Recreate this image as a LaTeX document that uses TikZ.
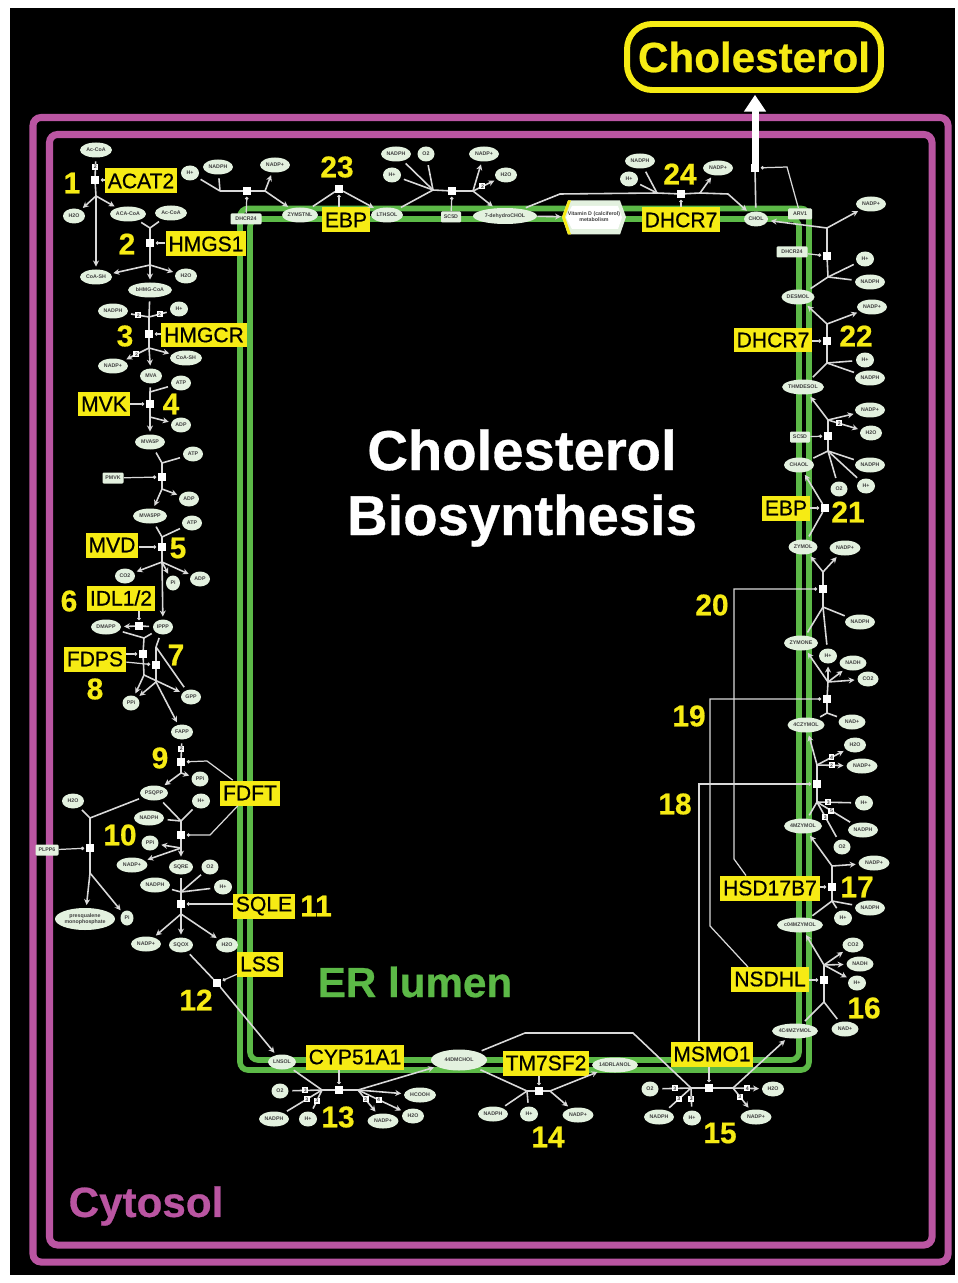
\documentclass[tikz,border=0pt]{standalone}
\usepackage{fontspec}
\setmainfont{Liberation Sans}
\newfontfamily\hvfont[BoldFeatures={FakeBold=0.6}]{Liberation Sans}
\newfontfamily\enzfont[FakeBold=0.5]{Liberation Sans}
\usetikzlibrary{shapes.geometric,arrows.meta}
\definecolor{cytmag}{HTML}{BA55A2}
\definecolor{ergreen}{HTML}{5CB947}
\definecolor{labyel}{HTML}{F6EB14}
\definecolor{metgreen}{HTML}{E3F1DF}
\definecolor{edgegrey}{HTML}{D9D9D9}
\newcommand{\smtxt}{\fontsize{3}{3.4}\selectfont\bfseries\color{black!75}}
\begin{document}
\begin{tikzpicture}[x=0.02cm, y=-0.02cm,
	met/.style={ellipse, fill=metgreen, inner sep=0pt, minimum height=0.3cm, minimum width=#1*0.04cm, font=\smtxt, align=center},
	rct/.style={rectangle, rounded corners=0.6pt, fill=metgreen, inner sep=0pt, minimum height=0.22cm, minimum width=#1*0.02cm, font=\smtxt},
	sq/.style={rectangle, fill=white, inner sep=0pt, minimum size=0.15cm},
	nbox/.style={rectangle, fill=white, inner sep=0pt, minimum size=0.12cm, font=\smtxt},
	enz/.style={rectangle, fill=labyel, text=black, inner sep=0pt, inner xsep=1.6pt, minimum height=0.5cm, font=\fontsize{12}{12}\selectfont\enzfont},
	num/.style={text=labyel, inner sep=0pt, font=\fontsize{17}{17}\selectfont\hvfont\bfseries},
	frm/.style={draw=cytmag, line width=4pt, rounded corners=0.16cm},
	lum/.style={draw=ergreen, line width=3.2pt, rounded corners=0.16cm},
	ln/.style={draw=edgegrey, line width=0.9pt, shorten <=2pt},
	sp/.style={draw=edgegrey, line width=0.9pt},
	ar/.style={draw=edgegrey, line width=0.9pt, -{Stealth[length=3.4pt, width=3.4pt]}, shorten >=1.5pt},
	cat/.style={draw=edgegrey, line width=0.7pt, -{Circle[length=1.9pt, fill=white]}, shorten >=1pt}]

	\useasboundingbox (0,0) rectangle (957,1283);
	\fill[white] (0,0) rectangle (957,1283);
	\fill[black] (10,8) rectangle (955,1275);

	\draw[frm] (33,117.5) rectangle (948,1262);
	\draw[frm] (49.5,134.5) rectangle (932,1245);
	\draw[lum] (240,208.5) rectangle (809,1070);
	\draw[lum] (250,219) rectangle (799,1060);

	\node[draw=labyel, line width=3.4pt, rounded corners=0.5cm, minimum width=5.08cm, minimum height=1.32cm, text=labyel, font=\fontsize{24}{24}\selectfont\hvfont\bfseries] (chbox) at (754,57) {Cholesterol};
	\node[text=white, align=center, font=\fontsize{32}{37}\selectfont\hvfont\bfseries] (title) at (522,488) {Cholesterol\\Biosynthesis};
	\node[text=ergreen, font=\fontsize{24}{24}\selectfont\hvfont\bfseries] (erlab) at (415,982) {ER lumen};
	\node[text=cytmag, font=\fontsize{24}{24}\selectfont\hvfont\bfseries] (cytlab) at (146,1206) {Cytosol};

	\fill[metgreen] (568,200.5) -- (620,200.5) -- (626,217) -- (620,234.5) -- (568,234.5) -- (562,217) -- cycle;
	\fill[labyel] (568,200.5) -- (571,200.5) -- (565,217) -- (571,234.5) -- (568,234.5) -- (562,217) -- cycle;
	\fill[white] (572,206) -- (618,206) -- (622,217.5) -- (618,229) -- (572,229) -- (566,217.5) -- cycle;
	\node[inner sep=0pt, align=center, minimum width=1.2cm, minimum height=0.56cm, font=\smtxt] (vitd) at (594,217) {Vitamin D (calciferol)\\metabolism};

	\node[met=16] (acoa1) at (96,150) {Ac-CoA};
	\node[met=11] (h2o1) at (74,216) {H2O};
	\node[met=18] (aca) at (128,214) {ACA-CoA};
	\node[met=16] (acoa2) at (171,213) {Ac-CoA};
	\node[met=16] (coash1) at (96,277) {CoA-SH};
	\node[met=22] (hmg) at (150,290) {bHMG-CoA};
	\node[met=11] (h2o2) at (186,276) {H2O};
	\node[met=15] (nadph3) at (113,311) {NADPH};
	\node[met=9] (hp3) at (179,309) {H+};
	\node[met=15] (nadpp3) at (113,366) {NADP+};
	\node[met=16] (coash2) at (186,358) {CoA-SH};
	\node[met=11] (mva) at (151,376) {MVA};
	\node[met=10] (atp4) at (181,383) {ATP};
	\node[met=10] (adp4) at (181,425) {ADP};
	\node[met=15] (mva5p) at (150,442) {MVA5P};
	\node[met=10] (atpm) at (193,454) {ATP};
	\node[rct=21] (pmvk) at (113,478) {PMVK};
	\node[met=10] (adpm) at (189,499) {ADP};
	\node[met=17] (mva5pp) at (150,516) {MVA5PP};
	\node[met=10] (atp5) at (192,523) {ATP};
	\node[met=10] (co25) at (125,576) {CO2};
	\node[met=7] (pi5) at (173,583) {Pi};
	\node[met=10] (adp5) at (200,579) {ADP};
	\node[met=10] (ipp) at (163,627) {IPPP};
	\node[met=15] (dmapp) at (106,627) {DMAPP};
	\node[met=10] (gpp) at (191,697) {GPP};
	\node[met=8.5] (ppi8) at (131,703) {PPi};
	\node[met=11] (fapp) at (182,732) {FAPP};
	\node[met=8.5] (ppi9) at (200,779) {PPi};
	\node[met=14] (psqpp) at (154,793) {PSQPP};
	\node[met=9] (hp10) at (201,801) {H+};
	\node[met=11] (h2opl) at (73,801) {H2O};
	\node[met=15] (nadph10) at (149,818) {NADPH};
	\node[met=8.5] (ppi10) at (150,843) {PPi};
	\node[met=15.5] (nadpp10) at (132,865) {NADP+};
	\node[met=12] (sqre) at (181,867) {SQRE};
	\node[met=8.5] (o211) at (210,867) {O2};
	\node[met=15] (nadph11) at (155,885) {NADPH};
	\node[met=9] (hp11) at (223,887) {H+};
	\node[rct=23] (plpp) at (47,850) {PLPP6};
	\node[met=30, minimum height=0.44cm] (presq) at (85,919) {presqualene\\monophosphate};
	\node[met=6.5] (pipl) at (127,918) {Pi};
	\node[met=15] (nadpp11) at (146,944) {NADP+};
	\node[met=12] (sqox) at (181,945) {SQOX};
	\node[met=11] (h2o11) at (227,945) {H2O};

	\node[met=9] (hpdl) at (190,173) {H+};
	\node[met=15] (nadphdl) at (218,167) {NADPH};
	\node[rct=31] (dh24l) at (246,219) {DHCR24};
	\node[met=15] (nadppdl) at (275,165) {NADP+};
	\node[met=18] (zymst) at (300,215) {ZYMSTNL};
	\node[met=16] (lth) at (387,215) {LTHSOL};
	\node[met=15] (nadphst) at (396,154) {NADPH};
	\node[met=8.5] (o2st) at (426,154) {O2};
	\node[met=9] (hpst) at (392,175) {H+};
	\node[met=15] (nadppst) at (484,154) {NADP+};
	\node[met=11] (h2ost) at (506,175) {H2O};
	\node[rct=20] (sc5dt) at (451,217) {SC5D};
	\node[met=32, minimum height=0.32cm] (dhc) at (505,216) {7-dehydroCHOL};
	\node[met=15] (nadph24) at (640,161) {NADPH};
	\node[met=9] (hp24) at (629,179) {H+};
	\node[met=15] (nadpp24) at (718,168) {NADP+};
	\node[met=12] (chol) at (756,219) {CHOL};
	\node[rct=24] (arv) at (800,214) {ARV1};
	\node[met=15] (nadppdr) at (871,204) {NADP+};

	\node[rct=31] (dh24r) at (792,252) {DHCR24};
	\node[met=9] (hpdr) at (865,259) {H+};
	\node[met=15] (nadphdr) at (870,282) {NADPH};
	\node[met=16.5] (desmol) at (798,297) {DESMOL};
	\node[met=15] (nadpp22) at (872,307) {NADP+};
	\node[met=9] (hp22) at (865,360) {H+};
	\node[met=15] (nadph22) at (870,378) {NADPH};
	\node[met=20] (thm) at (803,387) {THMDESOL};
	\node[met=15] (nadppsc) at (870,410) {NADP+};
	\node[met=11] (h2osc) at (871,433) {H2O};
	\node[rct=20] (sc5dr) at (800,437) {SC5D};
	\node[met=15] (chaol) at (799,465) {CHAOL};
	\node[met=15] (nadphsc) at (870,465) {NADPH};
	\node[met=8.5] (o2sc) at (839,489) {O2};
	\node[met=9] (hpsc) at (866,486) {H+};
	\node[met=14.5] (zymol) at (803,547) {ZYMOL};
	\node[met=15.5] (nadpp20) at (845,548) {NADP+};
	\node[met=15] (nadph20) at (860,622) {NADPH};
	\node[met=17] (zymone) at (801,643) {ZYMONE};
	\node[met=9] (hp20) at (828,656) {H+};
	\node[met=13.5] (nadh19) at (853,663) {NADH};
	\node[met=10.5] (co219) at (868,679) {CO2};
	\node[met=13.5] (nad19) at (852,722) {NAD+};
	\node[met=18.5] (czymol) at (806,725) {4CZYMOL};
	\node[met=11] (h2o18) at (855,745) {H2O};
	\node[met=15.5] (nadpp18) at (862,766) {NADP+};
	\node[met=9] (hp18) at (864,803) {H+};
	\node[met=19] (mzymol) at (803,826) {4MZYMOL};
	\node[met=15] (nadph18) at (863,830) {NADPH};
	\node[met=8.5] (o218) at (842,847) {O2};
	\node[met=15.5] (nadpp17) at (874,863) {NADP+};
	\node[met=15] (nadph17) at (870,908) {NADPH};
	\node[met=9] (hp17) at (843,918) {H+};
	\node[met=23] (cmzymol) at (800,925) {c04MZYMOL};
	\node[met=10.5] (co216) at (853,945) {CO2};
	\node[met=13.5] (nadh16) at (860,964) {NADH};
	\node[met=9] (hp16) at (857,983) {H+};
	\node[met=13.5] (nad16) at (845,1029) {NAD+};
	\node[met=23] (ccmzymol) at (795,1031) {4C4MZYMOL};

	\node[met=14] (lnsol) at (282,1062) {LNSOL};
	\node[met=28, minimum height=0.42cm] (dmchol) at (459,1060) {44DMCHOL};
	\node[met=8.5] (o213) at (280,1091) {O2};
	\node[met=15] (nadph13) at (274,1119) {NADPH};
	\node[met=9] (hp13) at (308,1119) {H+};
	\node[met=15.5] (nadpp13) at (383,1121) {NADP+};
	\node[met=11] (h2o13) at (413,1116) {H2O};
	\node[met=16] (hcooh) at (420,1095) {HCOOH};
	\node[met=23] (drlan) at (615,1065) {14DRLANOL};
	\node[met=15] (nadph14) at (493,1114) {NADPH};
	\node[met=9] (hp14) at (529,1114) {H+};
	\node[met=15.5] (nadpp14) at (578,1115) {NADP+};
	\node[met=8.5] (o215) at (650,1089) {O2};
	\node[met=15] (nadph15) at (659,1117) {NADPH};
	\node[met=9] (hp15) at (692,1118) {H+};
	\node[met=15.5] (nadpp15) at (756,1117) {NADP+};
	\node[met=11] (h2o15) at (773,1089) {H2O};

	\node[sq] (r1) at (95,180) {};
	\node[sq] (r2) at (150,243) {};
	\node[sq] (r3) at (149,334) {};
	\node[sq] (r4) at (150,404) {};
	\node[sq] (rm) at (162,477) {};
	\node[sq] (r5) at (162,547) {};
	\node[sq] (r6) at (139,626) {};
	\node[sq] (r8) at (143,654) {};
	\node[sq] (r7) at (156,665) {};
	\node[sq] (r9) at (181,762) {};
	\node[sq] (r10) at (181,835) {};
	\node[sq] (rpl) at (90,848) {};
	\node[sq] (r11) at (181,904) {};
	\node[sq] (r12) at (217,983) {};
	\node[sq] (r13) at (339,1090) {};
	\node[sq] (r14) at (539,1091) {};
	\node[sq] (r15) at (709,1088) {};
	\node[sq] (r16) at (824,980) {};
	\node[sq] (r17) at (832,887) {};
	\node[sq] (r18) at (817,784) {};
	\node[sq] (r19) at (827,699) {};
	\node[sq] (r20) at (823,589) {};
	\node[sq] (r21) at (825,508) {};
	\node[sq] (rsc) at (828,436) {};
	\node[sq] (r22) at (827,341) {};
	\node[sq] (rdr) at (827,256) {};
	\node[sq] (rch) at (755,168) {};
	\node[sq] (r24) at (681,194) {};
	\node[sq] (rst) at (452,191) {};
	\node[sq] (r23) at (339,189) {};
	\node[sq] (rdl) at (247,191) {};

	\node[enz] (acat) at (141,181) {ACAT2};
	\node[enz] (hmgs) at (206,244) {HMGS1};
	\node[enz] (hmgcr) at (204,335) {HMGCR};
	\node[enz] (mvk) at (104,404) {MVK};
	\node[enz] (mvd) at (112,545) {MVD};
	\node[enz] (idl) at (121,598) {IDL1/2};
	\node[enz] (fdps) at (95,659) {FDPS};
	\node[enz] (fdft) at (250,793) {FDFT};
	\node[enz] (sqle) at (264,906) {SQLE};
	\node[enz] (lss) at (260,964) {LSS};
	\node[enz] (cyp) at (355,1057) {CYP51A1};
	\node[enz] (tm7) at (546,1063) {TM7SF2};
	\node[enz] (msmo) at (712,1054) {MSMO1};
	\node[enz] (nsdhl) at (770,979) {NSDHL};
	\node[enz] (hsd) at (770,888) {HSD17B7};
	\node[enz] (ebpr) at (786,508) {EBP};
	\node[enz] (dhcr) at (773,340) {DHCR7};
	\node[enz] (dhct) at (681,220) {DHCR7};
	\node[enz] (ebpt) at (346,220) {EBP};

	\node[num] (n1) at (72,183) {1};
	\node[num] (n2) at (127,244) {2};
	\node[num] (n3) at (125,336) {3};
	\node[num] (n4) at (171,404) {4};
	\node[num] (n5) at (178,548) {5};
	\node[num] (n6) at (69,601) {6};
	\node[num] (n7) at (176,655) {7};
	\node[num] (n8) at (95,689) {8};
	\node[num] (n9) at (160,758) {9};
	\node[num] (n10) at (120,835) {10};
	\node[num] (n11) at (316,906) {11};
	\node[num] (n12) at (196,1000) {12};
	\node[num] (n13) at (338,1117) {13};
	\node[num] (n14) at (548,1137) {14};
	\node[num] (n15) at (720,1133) {15};
	\node[num] (n16) at (864,1008) {16};
	\node[num] (n17) at (857,887) {17};
	\node[num] (n18) at (675,804) {18};
	\node[num] (n19) at (689,716) {19};
	\node[num] (n20) at (712,605) {20};
	\node[num] (n21) at (848,512) {21};
	\node[num] (n22) at (856,336) {22};
	\node[num] (n23) at (337,167) {23};
	\node[num] (n24) at (680,174) {24};

	\coordinate (hb1) at (96,196);
	\coordinate (ha2) at (150,228);
	\coordinate (hb2) at (150,265);
	\coordinate (ha3) at (149,317);
	\coordinate (hb3) at (149,348);
	\coordinate (ha4) at (150,392);
	\coordinate (hb4) at (150,417);
	\coordinate (ham) at (162,463);
	\coordinate (hbm) at (162,489);
	\coordinate (ha5) at (162,537);
	\coordinate (hb5) at (162,562);
	\coordinate (ha8) at (144,638);
	\coordinate (hb8) at (144,675);
	\coordinate (ha7) at (156,647);
	\coordinate (hb7) at (156,682);
	\coordinate (hb9) at (181,773);
	\coordinate (ha10) at (181,821);
	\coordinate (hb10) at (181,848);
	\coordinate (hapl) at (90,818);
	\coordinate (hbpl) at (90,873);
	\coordinate (ha11) at (181,892);
	\coordinate (hb11) at (181,914);
	\coordinate (ha13) at (322,1090);
	\coordinate (hb13) at (358,1090);
	\coordinate (ha14) at (527,1091);
	\coordinate (hb14) at (550,1091);
	\coordinate (ha15) at (691,1088);
	\coordinate (hb15) at (733,1088);
	\coordinate (ha16) at (824,1002);
	\coordinate (hb16) at (824,965);
	\coordinate (ha17) at (832,901);
	\coordinate (hb17) at (832,866);
	\coordinate (ha18) at (817,802);
	\coordinate (hb18) at (817,765);
	\coordinate (ha19) at (827,713);
	\coordinate (hb19) at (828,682);
	\coordinate (ha20) at (823,607);
	\coordinate (hb20) at (823,572);
	\coordinate (hasc) at (828,451);
	\coordinate (hbsc) at (828,420);
	\coordinate (ha22) at (827,363);
	\coordinate (hb22) at (827,324);
	\coordinate (hadr) at (828,277);
	\coordinate (hbdr) at (827,228);
	\coordinate (ha24) at (657,193);
	\coordinate (hb24) at (700,193);
	\coordinate (ka24) at (560,194);
	\coordinate (kb24) at (728,194);
	\coordinate (hast) at (433,190);
	\coordinate (hbst) at (473,191);
	\coordinate (hadl) at (220,191);
	\coordinate (hbdl) at (265,191);
	\coordinate (kfa) at (207,761);
	\coordinate (kfb) at (210,835);
	\coordinate (karv) at (787,167);
	\coordinate (kla) at (525,1033);
	\coordinate (klb) at (633,1033);
	\coordinate (kma) at (699,784);
	\coordinate (knc) at (748,967);
	\coordinate (kna) at (710,926);
	\coordinate (knb) at (710,699);
	\coordinate (khc) at (746,875.5);
	\coordinate (kha) at (734,859);
	\coordinate (khb) at (734,589);

	\draw[ln] (acoa1) -- node[nbox] (q1) {2} (r1);
	\draw[sp] (r1) -- (hb1);
	\draw[ar] (hb1) -- (h2o1);
	\draw[ar] (hb1) -- (aca);
	\draw[ar] (hb1) -- (coash1);
	\draw[cat] (acat.west |- r1) -- (r1);

	\draw[ln] (aca) -- (ha2);
	\draw[ln] (acoa2) -- (ha2);
	\draw[sp] (ha2) -- (r2) -- (hb2);
	\draw[ar] (hb2) -- (coash1);
	\draw[ar] (hb2) -- (h2o2);
	\draw[ar] (hb2) -- (hmg);
	\draw[cat] (hmgs.west |- r2) -- (r2);

	\draw[ln] (hmg) -- (ha3);
	\draw[ln] (nadph3) -- node[nbox] (q3a) {2} (ha3);
	\draw[ln] (hp3) -- node[nbox] (q3b) {2} (ha3);
	\draw[sp] (ha3) -- (r3) -- (hb3);
	\draw[ar] (hb3) -- node[nbox] (q3c) {2} (nadpp3);
	\draw[ar] (hb3) -- (coash2);
	\draw[ar] (hb3) -- (mva);
	\draw[cat] (hmgcr.west |- r3) -- (r3);

	\draw[ln] (mva) -- (ha4);
	\draw[ln] (atp4) -- (ha4);
	\draw[sp] (ha4) -- (r4) -- (hb4);
	\draw[ar] (hb4) -- (adp4);
	\draw[ar] (hb4) -- (mva5p);
	\draw[cat] (mvk.east |- r4) -- (r4);

	\draw[ln] (mva5p) -- (ham);
	\draw[ln] (atpm) -- (ham);
	\draw[sp] (ham) -- (rm) -- (hbm);
	\draw[ar] (hbm) -- (adpm);
	\draw[ar] (hbm) -- (mva5pp);
	\draw[cat] (pmvk) -- (rm);

	\draw[ln] (mva5pp) -- (ha5);
	\draw[ln] (atp5) -- (ha5);
	\draw[sp] (ha5) -- (r5) -- (hb5);
	\draw[ar] (hb5) -- (co25);
	\draw[ar] (hb5) -- (pi5);
	\draw[ar] (hb5) -- (adp5);
	\draw[ar] (hb5) -- (ipp);
	\draw[cat] (mvd.east |- r5) -- (r5);

	\draw[ln] (ipp) -- (r6);
	\draw[ar] (r6) -- (dmapp);
	\draw[cat] (r6 |- idl.south) -- (r6);

	\draw[ln] (dmapp) -- (ha8);
	\draw[ln] (ipp) -- (ha8);
	\draw[sp] (ha8) -- (r8) -- (hb8);
	\draw[ar] (hb8) -- (ppi8);
	\draw[ar] (hb8) -- (gpp);
	\draw[cat] (fdps.east |- r8) -- (r8);

	\draw[ln] (ipp) -- (ha7);
	\draw[ln] (gpp) -- (ha7);
	\draw[sp] (ha7) -- (r7) -- (hb7);
	\draw[ar] (hb7) -- (ppi8);
	\draw[ar] (hb7) -- (fapp);
	\draw[cat] (fdps) -- (r7);

	\draw[ln] (fapp) -- node[nbox] (q9) {2} (r9);
	\draw[sp] (r9) -- (hb9);
	\draw[ar] (hb9) -- (psqpp);
	\draw[ar] (hb9) -- (ppi9);
	\draw[cat] (fdft) -- (kfa) -- (r9);

	\draw[ln] (psqpp) -- (ha10);
	\draw[ln] (nadph10) -- (ha10);
	\draw[ln] (hp10) -- (ha10);
	\draw[sp] (ha10) -- (r10) -- (hb10);
	\draw[ar] (hb10) -- (ppi10);
	\draw[ar] (hb10) -- (nadpp10);
	\draw[ar] (hb10) -- (sqre);
	\draw[cat] (fdft) -- (kfb) -- (r10);

	\draw[ln] (psqpp) -- (hapl);
	\draw[ln] (h2opl) -- (hapl);
	\draw[sp] (hapl) -- (rpl) -- (hbpl);
	\draw[ar] (hbpl) -- (presq);
	\draw[ar] (hbpl) -- (pipl);
	\draw[cat] (plpp) -- (rpl);

	\draw[ln] (sqre) -- (ha11);
	\draw[ln] (o211) -- (ha11);
	\draw[ln] (nadph11) -- (ha11);
	\draw[ln] (hp11) -- (ha11);
	\draw[sp] (ha11) -- (r11) -- (hb11);
	\draw[ar] (hb11) -- (nadpp11);
	\draw[ar] (hb11) -- (sqox);
	\draw[ar] (hb11) -- (h2o11);
	\draw[cat] (sqle.west |- r11) -- (r11);

	\draw[ln] (sqox) -- (r12);
	\draw[ar] (r12) -- (lnsol);
	\draw[cat] (lss) -- (r12);

	\draw[ln] (lnsol) -- (ha13);
	\draw[ln] (o213) -- node[nbox] (q13a) {3} (ha13);
	\draw[ln] (nadph13) -- node[nbox, pos=0.6] (q13b) {3} (ha13);
	\draw[ln] (hp13) -- node[nbox] (q13c) {3} (ha13);
	\draw[sp] (ha13) -- (r13) -- (hb13);
	\draw[ar] (hb13) -- (dmchol);
	\draw[ar] (hb13) -- (hcooh);
	\draw[ar] (hb13) -- node[nbox, pos=0.4] (q13d) {3} (nadpp13);
	\draw[ar] (hb13) -- node[nbox, pos=0.45] (q13e) {4} (h2o13);
	\draw[cat] (r13 |- cyp.south) -- (r13);

	\draw[ln] (dmchol) -- (ha14);
	\draw[ln] (nadph14) -- (ha14);
	\draw[ln] (hp14) -- (ha14);
	\draw[sp] (ha14) -- (r14) -- (hb14);
	\draw[ar] (hb14) -- (drlan);
	\draw[ar] (hb14) -- (nadpp14);
	\draw[cat] (r14 |- tm7.south) -- (r14);

	\draw[ln] (dmchol) -- (kla) -- (klb) -- (ha15);
	\draw[ln] (o215) -- node[nbox] (q15a) {3} (ha15);
	\draw[ln] (nadph15) -- node[nbox] (q15b) {3} (ha15);
	\draw[ln] (hp15) -- node[nbox] (q15c) {3} (ha15);
	\draw[sp] (ha15) -- (r15) -- (hb15);
	\draw[ar] (hb15) -- (ccmzymol);
	\draw[ar] (hb15) -- node[nbox] (q15d) {4} (h2o15);
	\draw[ar] (hb15) -- node[nbox, pos=0.4] (q15e) {3} (nadpp15);
	\draw[cat] (r15 |- msmo.south) -- (r15);
	\draw[cat] (kma |- msmo.north) -- (kma) -- (r18);

	\draw[ln] (ccmzymol) -- (ha16);
	\draw[ln] (nad16) -- (ha16);
	\draw[sp] (ha16) -- (r16) -- (hb16);
	\draw[ar] (hb16) -- (cmzymol);
	\draw[ar] (hb16) -- (co216);
	\draw[ar] (hb16) -- (nadh16);
	\draw[ar] (hb16) -- (hp16);
	\draw[cat] (nsdhl.east |- r16) -- (r16);
	\draw[cat] (knc) -- (kna) -- (knb) -- (r19);

	\draw[ln] (cmzymol) -- (ha17);
	\draw[ln] (nadph17) -- (ha17);
	\draw[ln] (hp17) -- (ha17);
	\draw[sp] (ha17) -- (r17) -- (hb17);
	\draw[ar] (hb17) -- (mzymol);
	\draw[ar] (hb17) -- (nadpp17);
	\draw[cat] (hsd.east |- r17) -- (r17);
	\draw[cat] (khc) -- (kha) -- (khb) -- (r20);

	\draw[ln] (mzymol) -- (ha18);
	\draw[ln] (hp18) -- node[nbox, pos=0.7] (q18a) {3} (ha18);
	\draw[ln] (nadph18) -- node[nbox, pos=0.6] (q18b) {5} (ha18);
	\draw[ln] (o218) -- node[nbox, pos=0.6] (q18c) {3} (ha18);
	\draw[sp] (ha18) -- (r18) -- (hb18);
	\draw[ar] (hb18) -- (czymol);
	\draw[ar] (hb18) -- node[nbox] (q18d) {4} (h2o18);
	\draw[ar] (hb18) -- node[nbox] (q18e) {2} (nadpp18);

	\draw[ln] (czymol) -- (ha19);
	\draw[ln] (nad19) -- (ha19);
	\draw[sp] (ha19) -- (r19) -- (hb19);
	\draw[ar] (hb19) -- (zymone);
	\draw[ar] (hb19) -- (hp20);
	\draw[ar] (hb19) -- (nadh19);
	\draw[ar] (hb19) -- (co219);

	\draw[ln] (zymone) -- (ha20);
	\draw[ln] (nadph20) -- (ha20);
	\draw[ln] (hp20) -- (ha20);
	\draw[sp] (ha20) -- (r20) -- (hb20);
	\draw[ar] (hb20) -- (zymol);
	\draw[ar] (hb20) -- (nadpp20);

	\draw[ln] (zymol) -- (r21);
	\draw[ar] (r21) -- (chaol);
	\draw[cat] (ebpr.east |- r21) -- (r21);

	\draw[ln] (chaol) -- (hasc);
	\draw[ln] (nadphsc) -- (hasc);
	\draw[ln] (o2sc) -- (hasc);
	\draw[ln] (hpsc) -- (hasc);
	\draw[sp] (hasc) -- (rsc) -- (hbsc);
	\draw[ar] (hbsc) -- (thm);
	\draw[ar] (hbsc) -- (nadppsc);
	\draw[ar] (hbsc) -- node[nbox, pos=0.35] (qsc) {2} (h2osc);
	\draw[cat] (sc5dr) -- (rsc);

	\draw[ln] (thm) -- (ha22);
	\draw[ln] (hp22) -- (ha22);
	\draw[ln] (nadph22) -- (ha22);
	\draw[sp] (ha22) -- (r22) -- (hb22);
	\draw[ar] (hb22) -- (desmol);
	\draw[ar] (hb22) -- (nadpp22);
	\draw[cat] (dhcr.east |- r22) -- (r22);

	\draw[ln] (desmol) -- (hadr);
	\draw[ln] (hpdr) -- (hadr);
	\draw[ln] (nadphdr) -- (hadr);
	\draw[sp] (hadr) -- (rdr) -- (hbdr);
	\draw[ar] (hbdr) -- (nadppdr);
	\draw[ar] (hbdr) -- (chol);
	\draw[cat] (dh24r) -- (rdr);

	\draw[ln] (chol) -- (rch);
	\draw[cat] (arv) -- (karv) -- (rch);
	\draw[draw=white, line width=4pt, -{Triangle[length=9.6pt, width=12pt]}, shorten >=1pt] (rch) -- (rch |- chbox.south);

	\draw[ln] (dhc) -- (ka24) -- (ha24);
	\draw[ln] (nadph24) -- (ha24);
	\draw[ln] (hp24) -- (ha24);
	\draw[sp] (ha24) -- (r24) -- (hb24);
	\draw[ar] (hb24) -- (nadpp24);
	\draw[ar] (hb24) -- (kb24) -- (chol);
	\draw[cat] (r24 |- dhct.north) -- (r24);
	\draw[ar] (dhc) -- (vitd);

	\draw[ln] (lth) -- (hast);
	\draw[ln] (nadphst) -- (hast);
	\draw[ln] (o2st) -- (hast);
	\draw[ln] (hpst) -- (hast);
	\draw[sp] (hast) -- (rst) -- (hbst);
	\draw[ar] (hbst) -- (nadppst);
	\draw[ar] (hbst) -- node[nbox, pos=0.4] (qst) {2} (h2ost);
	\draw[ar] (hbst) -- (dhc);
	\draw[cat] (sc5dt) -- (rst);

	\draw[ln] (zymst) -- (r23);
	\draw[ar] (r23) -- (lth);
	\draw[cat] (r23 |- ebpt.north) -- (r23);

	\draw[ln] (hpdl) -- (hadl);
	\draw[ln] (nadphdl) -- (hadl);
	\draw[sp] (hadl) -- (rdl) -- (hbdl);
	\draw[ar] (hbdl) -- (nadppdl);
	\draw[ar] (hbdl) -- (zymst);
	\draw[cat] (dh24l) -- (rdl);
\end{tikzpicture}
\end{document}
